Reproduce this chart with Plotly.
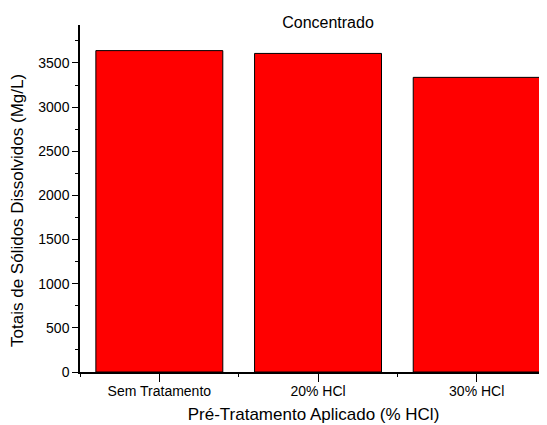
import plotly.graph_objects as go

categories = ["Sem Tratamento", "20% HCl", "30% HCl"]
values = [3640, 3608, 3337]
y_ticks = [0, 500, 1000, 1500, 2000, 2500, 3000, 3500]

positions = list(range(len(categories)))

fig = go.Figure(go.Bar(
    x=positions, y=values, width=0.8,
    marker=dict(color="#FF0000", line=dict(color="black", width=1)),
))

font = "Liberation Sans, Arial, sans-serif"
fig.update_layout(
    width=547, height=425,
    margin=dict(l=72, r=8, t=17, b=61),
    paper_bgcolor="white", plot_bgcolor="white",
    showlegend=False,
    font=dict(family=font, color="black"),
    title=dict(text="Concentrado", x=0.585, xanchor="center", y=0.965, yanchor="middle",
               font=dict(size=16, family=font, color="black")),
    annotations=[dict(
        text="Totais de Sólidos Dissolvidos (Mg/L)", textangle=-90,
        xref="paper", yref="paper", x=-0.1328, y=0.467,
        xanchor="center", yanchor="middle", showarrow=False,
        font=dict(size=17, family=font, color="black"),
    )],
)
fig.update_xaxes(
    range=[-0.5, 2.443],
    tickvals=positions, ticktext=categories,
    tickfont=dict(size=14),
    ticks="outside", ticklen=8, tickwidth=1, tickcolor="black",
    ticklabelstandoff=-3,
    minor=dict(dtick=0.5, tick0=0.5, ticks="outside", ticklen=3, tickcolor="black"),
    showline=True, linecolor="black", linewidth=1.5,
    showgrid=False, zeroline=False, automargin=False,
    title=dict(text="Pré-Tratamento Aplicado (% HCl)", font=dict(size=17), standoff=11),
)
fig.update_yaxes(
    range=[0, 3930],
    tickvals=y_ticks,
    tickfont=dict(size=14),
    ticks="outside", ticklen=6, tickwidth=1, tickcolor="black",
    minor=dict(dtick=250, ticks="outside", ticklen=3, tickcolor="black"),
    showline=True, linecolor="black", linewidth=1.5,
    showgrid=False, zeroline=False, automargin=False,
)

fig.write_html("out.html")
